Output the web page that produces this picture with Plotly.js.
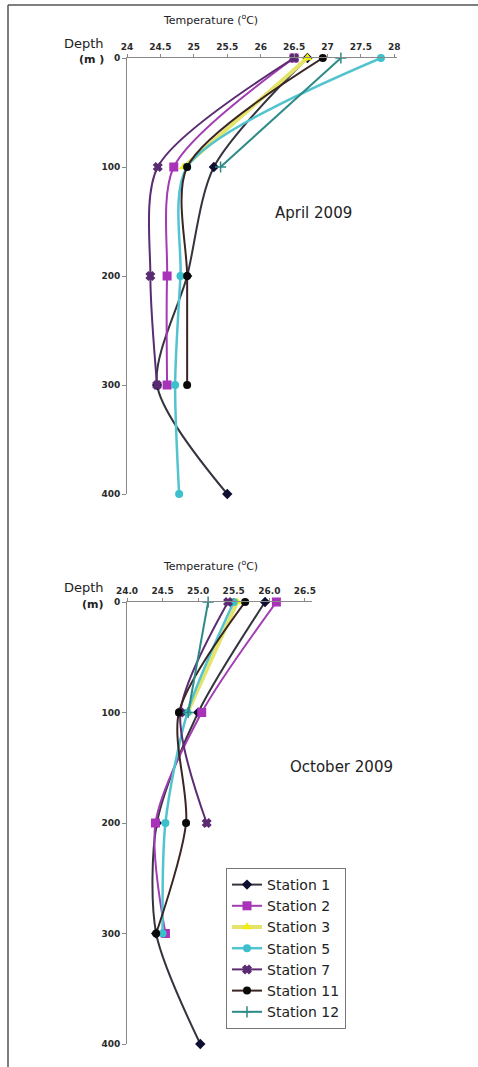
<!DOCTYPE html>
<html><head><meta charset="utf-8">
<script src="https://cdn.plot.ly/plotly-3.0.1.min.js"></script>
<style>html,body{margin:0;padding:0;background:#fff}#chart{width:478px;height:1067px}</style>
</head><body><div id="chart"></div><script>
const depths = [0, 100, 200, 300, 400];
const stationNames = ["Station 1", "Station 2", "Station 3", "Station 5", "Station 7", "Station 11", "Station 12"];

// April 2009 temperatures (°C) at depths 0,100,200,300,400 m
const apr_s1  = [26.7, 25.3, 24.9, 24.45, 25.5];
const apr_s2  = [26.5, 24.7, 24.6, 24.6];
const apr_s3  = [26.7, 24.85];
const apr_s5  = [27.8, 24.9, 24.8, 24.72, 24.78];
const apr_s7  = [26.5, 24.46, 24.35, 24.45];
const apr_s11 = [26.93, 24.9, 24.9, 24.9];
const apr_s12 = [27.2, 25.4];

// October 2009 temperatures (°C)
const oct_s1  = [25.94, 25.0, 24.42, 24.41, 25.03];
const oct_s2  = [26.1, 25.05, 24.4, 24.54];
const oct_s3  = [25.55, 24.85];
const oct_s5  = [25.5, 24.85, 24.54, 24.5];
const oct_s7  = [25.42, 24.75, 25.12];
const oct_s11 = [25.66, 24.73, 24.83, 24.41];
const oct_s12 = [25.14, 24.86];

const aprTicks = [24, 24.5, 25, 25.5, 26, 26.5, 27, 27.5, 28];
const aprTickText = ["24", "24.5", "25", "25.5", "26", "26.5", "27", "27.5", "28"];
const octTicks = [24, 24.5, 25, 25.5, 26, 26.5];
const octTickText = ["24.0", "24.5", "25.0", "25.5", "26.0", "26.5"];
const depthTicks = [0, 100, 200, 300, 400];

const styles = [
  {line: "#34343f", mcol: "#0e0e30", sym: "diamond", size: 8, w: 2},
  {line: "#a23cb2", mcol: "#a832b8", sym: "square", size: 9, w: 2},
  {line: "#e4e46a", mcol: "#f0ee10", sym: "triangle-up", size: 9, w: 4},
  {line: "#52c4d0", mcol: "#3cc0cc", sym: "circle", size: 8, w: 2.5},
  {line: "#5a2c72", mcol: "#5a2c72", sym: "x", size: 7, w: 2},
  {line: "#3a2424", mcol: "#0a0a0a", sym: "circle", size: 8, w: 2},
  {line: "#2e8a86", mcol: "#2e8a86", sym: "cross-thin", size: 8, w: 2}
];

const aprData = [apr_s1, apr_s2, apr_s3, apr_s5, apr_s7, apr_s11, apr_s12];
const octData = [oct_s1, oct_s2, oct_s3, oct_s5, oct_s7, oct_s11, oct_s12];

const traces = [];
function addTraces(data, xa, ya, legend) {
  data.forEach((vals, i) => {
    const s = styles[i];
    traces.push({
      x: vals, y: depths.slice(0, vals.length),
      xaxis: xa, yaxis: ya,
      type: "scatter", mode: "lines+markers",
      name: stationNames[i], showlegend: legend,
      cliponaxis: false,
      line: {color: s.line, width: s.w, shape: "spline", smoothing: 0.8},
      marker: {symbol: s.sym, size: s.size, color: s.mcol,
               line: {color: s.mcol, width: s.sym === "cross-thin" || s.sym === "x" ? 1.5 : 0}}
    });
  });
}
addTraces(aprData, "x", "y", false);
addTraces(octData, "x2", "y2", true);

const W = 478, H = 1067;
const px = v => v / W, py = v => 1 - v / H;
const tickFont = {family: "DejaVu Sans", size: 9, color: "#2a2a2a", weight: "bold"};
const axCommon = {showline: true, linecolor: "#8a8a8a", linewidth: 1, ticks: "outside", ticklen: 3,
                  tickcolor: "#8a8a8a", showgrid: false, zeroline: false, tickfont: tickFont, fixedrange: true};

const layout = {
  width: W, height: H,
  margin: {l: 0, r: 0, t: 0, b: 0},
  paper_bgcolor: "#fff", plot_bgcolor: "rgba(0,0,0,0)",
  font: {family: "DejaVu Sans", color: "#222"},
  xaxis: Object.assign({}, axCommon, {domain: [px(127), px(397)], range: [24, 28.04], side: "top", anchor: "y",
          tickvals: aprTicks, ticktext: aprTickText}),
  yaxis: Object.assign({}, axCommon, {domain: [py(494), py(58)], range: [400, 0], anchor: "x",
          tickvals: depthTicks, ticklen: 4}),
  xaxis2: Object.assign({}, axCommon, {domain: [px(127), px(312)], range: [24, 26.6], side: "top", anchor: "y2",
          tickvals: octTicks, ticktext: octTickText}),
  yaxis2: Object.assign({}, axCommon, {domain: [py(1044), py(602)], range: [400, 0], anchor: "x2",
          tickvals: depthTicks, ticklen: 4}),
  showlegend: true,
  legend: {x: px(226), y: py(868), xanchor: "left", yanchor: "top", bgcolor: "#fff",
           bordercolor: "#777", borderwidth: 1, font: {family: "DejaVu Sans", size: 14, color: "#222"},
           traceorder: "normal"},
  annotations: [
    {text: "Temperature (<sup>o</sup>C)", x: px(210), y: py(20), xref: "paper", yref: "paper", showarrow: false,
     font: {size: 11}, xanchor: "center", yanchor: "middle"},
    {text: "Depth", x: px(106), y: py(44), xref: "paper", yref: "paper", showarrow: false,
     font: {size: 13}, xanchor: "right", yanchor: "middle"},
    {text: "<b>(m )</b>", x: px(106), y: py(60), xref: "paper", yref: "paper", showarrow: false,
     font: {size: 11}, xanchor: "right", yanchor: "middle"},
    {text: "April 2009", x: px(313), y: py(213), xref: "paper", yref: "paper", showarrow: false,
     font: {size: 15}, xanchor: "center", yanchor: "middle"},
    {text: "Temperature (<sup>o</sup>C)", x: px(210), y: py(565), xref: "paper", yref: "paper", showarrow: false,
     font: {size: 11}, xanchor: "center", yanchor: "middle"},
    {text: "Depth", x: px(106), y: py(587), xref: "paper", yref: "paper", showarrow: false,
     font: {size: 13}, xanchor: "right", yanchor: "middle"},
    {text: "<b>(m)</b>", x: px(106), y: py(604), xref: "paper", yref: "paper", showarrow: false,
     font: {size: 11}, xanchor: "right", yanchor: "middle"},
    {text: "October 2009", x: px(341), y: py(767), xref: "paper", yref: "paper", showarrow: false,
     font: {size: 15}, xanchor: "center", yanchor: "middle"}
  ],
  shapes: [
    {type: "line", xref: "paper", yref: "paper", x0: px(8), x1: 1, y0: py(5), y1: py(5), line: {color: "#555", width: 1.5}},
    {type: "line", xref: "paper", yref: "paper", x0: px(8), x1: px(8), y0: py(5), y1: 0, line: {color: "#555", width: 1.5}}
  ]
};

Plotly.newPlot("chart", traces, layout, {displayModeBar: false, staticPlot: true});
</script></body></html>
